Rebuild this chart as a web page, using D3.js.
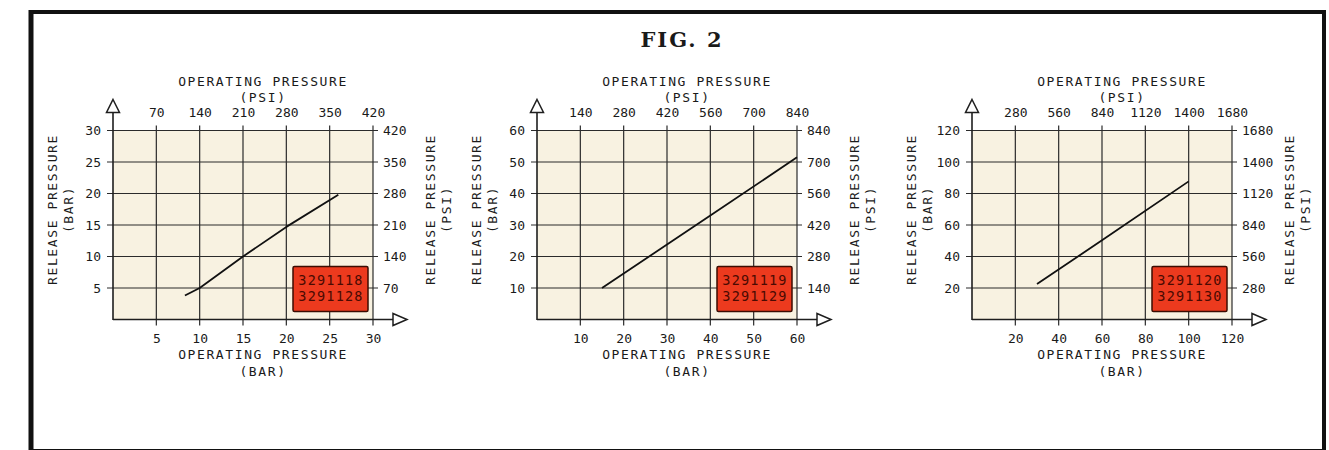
<!DOCTYPE html>
<html>
<head>
<meta charset="utf-8">
<script src="https://cdn.jsdelivr.net/npm/d3@7"></script>
<style>
body { margin: 0; background: #fff; }
svg text { font-family: "DejaVu Sans Mono", monospace; fill: #1a1a1a; }
.fig-title { font-family: "DejaVu Serif", serif; font-weight: bold; font-size: 21px; letter-spacing: 2px; fill: #1a1a1a; }
.tick-label text { font-size: 13px; }
.axis-title { font-size: 13px; letter-spacing: 1.6px; }
.grid { stroke: #2b2b2b; stroke-width: 1.2; }
.axis-line { stroke: #1e1e1e; stroke-width: 1.6; fill: none; }
.arrow { fill: #fff; stroke: #1e1e1e; stroke-width: 1.5; }
.curve { fill: none; stroke: #111; stroke-width: 1.8; stroke-linejoin: round; }
.model-box { fill: #ec3a1e; stroke: #3b0c02; stroke-width: 1.5; }
.model-text { font-size: 13.5px; fill: #4a0a02; letter-spacing: 1.2px; }
</style>
</head>
<body>
<svg width="1329" height="450"></svg>
<script>
var figTitle = "FIG. 2";
var opTitle = ["OPERATING PRESSURE", "(PSI)", "(BAR)"];
var relTitle = ["RELEASE PRESSURE", "(BAR)", "(PSI)"];
var barToPsi = 14;

// panel 1
var barTicks1 = [5, 10, 15, 20, 25, 30],
    psiTicks1 = [70, 140, 210, 280, 350, 420],
    curve1 = [[8.3, 3.8], [10, 5], [15, 10], [20, 14.7], [26, 19.8]],
    models1 = ["3291118", "3291128"];
// panel 2
var barTicks2 = [10, 20, 30, 40, 50, 60],
    psiTicks2 = [140, 280, 420, 560, 700, 840],
    curve2 = [[15, 10], [40, 33], [60, 51.5]],
    models2 = ["3291119", "3291129"];
// panel 3
var barTicks3 = [20, 40, 60, 80, 100, 120],
    psiTicks3 = [280, 560, 840, 1120, 1400, 1680],
    curve3 = [[30, 22.5], [60, 50.3], [100, 87.7]],
    models3 = ["3291120", "3291130"];

var svg = d3.select("svg"),
    width = 260,
    height = 189,
    top0 = 130.5,
    fmt = d3.format("d");

// outer frame
svg.append("rect")
    .attr("x", 31).attr("y", 12)
    .attr("width", 1293).attr("height", 439)
    .attr("fill", "none")
    .attr("stroke", "#111")
    .attr("stroke-width", 4);
svg.append("line")
    .attr("x1", 31).attr("x2", 31).attr("y1", 10).attr("y2", 452)
    .attr("stroke", "#111").attr("stroke-width", 5);

svg.append("text")
    .attr("class", "fig-title")
    .attr("x", 682).attr("y", 47)
    .attr("text-anchor", "middle")
    .text(figTitle);

function drawPanel(left, barTicks, psiTicks, curve, models) {
    var maxBar = barTicks[barTicks.length - 1];
    var g = svg.append("g").attr("transform", "translate(" + left + "," + top0 + ")");

    var x = d3.scaleLinear().domain([0, maxBar]).range([0, width]);
    var y = d3.scaleLinear().domain([0, maxBar]).range([height, 0]);
    var xPsi = d3.scaleLinear().domain([0, maxBar * barToPsi]).range([0, width]);
    var yPsi = d3.scaleLinear().domain([0, maxBar * barToPsi]).range([height, 0]);

    g.append("rect")
        .attr("width", width).attr("height", height)
        .attr("fill", "#f8f2e1");

    // grid
    g.selectAll(".hgrid").data(barTicks).enter().append("line")
        .attr("class", "grid")
        .attr("x1", -6).attr("x2", width + 5)
        .attr("y1", function(d) { return y(d); })
        .attr("y2", function(d) { return y(d); });
    g.selectAll(".vgrid").data(barTicks).enter().append("line")
        .attr("class", "grid")
        .attr("y1", -5).attr("y2", height + 6)
        .attr("x1", function(d) { return x(d); })
        .attr("x2", function(d) { return x(d); });

    // main axes with open arrows
    g.append("path").attr("class", "axis-line")
        .attr("d", "M0," + (height + 0.5) + "V-18");
    g.append("path").attr("class", "axis-line")
        .attr("d", "M0," + height + "H" + (width + 20));
    g.append("path").attr("class", "arrow")
        .attr("d", "M0,-31L6.5,-18L-6.5,-18Z");
    g.append("path").attr("class", "arrow")
        .attr("transform", "translate(" + (width + 20) + "," + height + ")")
        .attr("d", "M0,-6L14,0L0,6Z");

    // tick labels
    g.append("g").attr("class", "tick-label")
        .call(d3.axisLeft(y).tickValues(barTicks).tickFormat(fmt).tickSize(0).tickPadding(12));
    g.append("g").attr("class", "tick-label")
        .attr("transform", "translate(" + width + ",0)")
        .call(d3.axisRight(yPsi).tickValues(psiTicks).tickFormat(fmt).tickSize(0).tickPadding(10));
    g.append("g").attr("class", "tick-label")
        .attr("transform", "translate(0," + height + ")")
        .call(d3.axisBottom(x).tickValues(barTicks).tickFormat(fmt).tickSize(0).tickPadding(14));
    g.append("g").attr("class", "tick-label")
        .call(d3.axisTop(xPsi).tickValues(psiTicks).tickFormat(fmt).tickSize(0).tickPadding(14));
    g.selectAll(".tick-label .domain").remove();

    // axis titles
    g.append("text").attr("class", "axis-title")
        .attr("x", 150).attr("y", -45).attr("text-anchor", "middle").text(opTitle[0]);
    g.append("text").attr("class", "axis-title")
        .attr("x", 150).attr("y", -29).attr("text-anchor", "middle").text(opTitle[1]);
    g.append("text").attr("class", "axis-title")
        .attr("x", 150).attr("y", height + 39).attr("text-anchor", "middle").text(opTitle[0]);
    g.append("text").attr("class", "axis-title")
        .attr("x", 150).attr("y", height + 56).attr("text-anchor", "middle").text(opTitle[2]);

    g.append("text").attr("class", "axis-title")
        .attr("transform", "translate(-56,79) rotate(-90)")
        .attr("text-anchor", "middle").text(relTitle[0]);
    g.append("text").attr("class", "axis-title")
        .attr("transform", "translate(-40,79) rotate(-90)")
        .attr("text-anchor", "middle").text(relTitle[1]);
    g.append("text").attr("class", "axis-title")
        .attr("transform", "translate(" + (width + 62) + ",79) rotate(-90)")
        .attr("text-anchor", "middle").text(relTitle[0]);
    g.append("text").attr("class", "axis-title")
        .attr("transform", "translate(" + (width + 78) + ",79) rotate(-90)")
        .attr("text-anchor", "middle").text(relTitle[2]);

    // release curve
    var line = d3.line()
        .x(function(d) { return x(d[0]); })
        .y(function(d) { return y(d[1]); });
    g.append("path").attr("class", "curve").attr("d", line(curve));

    // model number label
    g.append("rect").attr("class", "model-box")
        .attr("x", 180).attr("y", 136)
        .attr("width", 75).attr("height", 45)
        .attr("rx", 1.5);
    g.selectAll(".model-text").data(models).enter().append("text")
        .attr("class", "model-text")
        .attr("x", 218)
        .attr("y", function(d, i) { return 154 + i * 16; })
        .attr("text-anchor", "middle")
        .text(function(d) { return d; });
}

drawPanel(113, barTicks1, psiTicks1, curve1, models1);
drawPanel(537, barTicks2, psiTicks2, curve2, models2);
drawPanel(972, barTicks3, psiTicks3, curve3, models3);
</script>
</body>
</html>
